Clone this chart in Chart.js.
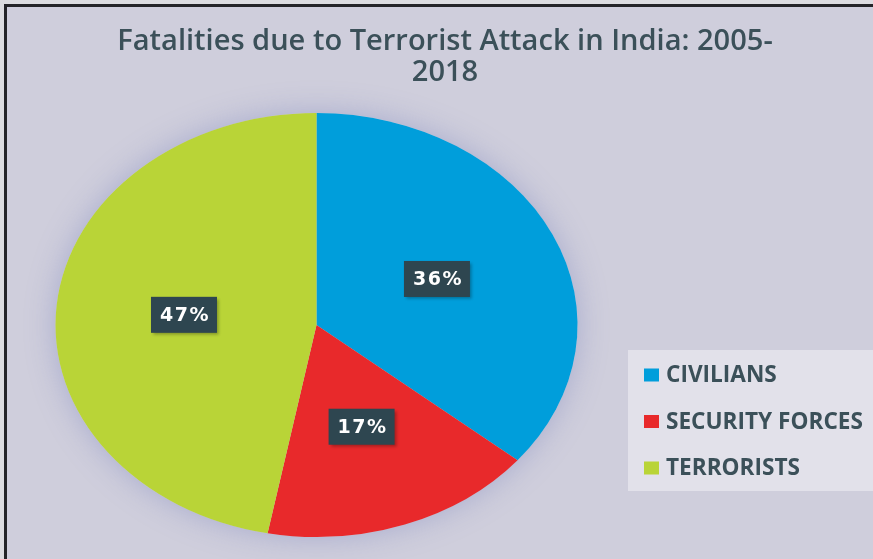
<!DOCTYPE html>
<html>
<head>
<meta charset="utf-8">
<script src="https://cdn.jsdelivr.net/npm/chart.js@4.4.1/dist/chart.umd.min.js"></script>
<style>
  html, body { margin: 0; padding: 0; background: #dedee3; }
  #wrap { width: 873px; height: 559px; position: relative; }
  canvas { display: block; }
</style>
</head>
<body>
<div id="wrap"><canvas id="chart" width="873" height="559"></canvas></div>
<script>
// Chart content
const titleLines = ['Fatalities due to Terrorist Attack in India: 2005-', '2018'];
const categories = ['CIVILIANS', 'SECURITY FORCES', 'TERRORISTS'];
const shares = [36, 17, 47];
const sliceColors = ['#009edb', '#e8292b', '#b9d437'];

// Look and layout
const BG = '#cfcedc';
const FRAME = '#242428';
const INK = '#3b5059';
const TAG_BG = '#2e4650';
const X_STRETCH = 261 / 212;   // pie is drawn as a wide ellipse

function fitFont(ctx, weight, family, text, width) {
  ctx.font = `${weight} 100px ${family}`;
  const w = ctx.measureText(text).width;
  return 100 * width / w;
}

const decor = {
  id: 'decor',
  beforeDraw(chart) {
    const ctx = chart.ctx;
    const W = chart.width, H = chart.height;
    ctx.save();
    ctx.fillStyle = '#dcdce0';
    ctx.fillRect(0, 0, W, H);
    ctx.fillStyle = FRAME;
    ctx.fillRect(4, 4, W - 4, H - 4);
    ctx.fillStyle = BG;
    ctx.fillRect(7, 7, W - 7, H - 7);
    ctx.restore();
  },
  beforeDatasetsDraw(chart) {
    const ctx = chart.ctx;
    const arc = chart.getDatasetMeta(0).data[0];
    const { x, y, outerRadius: r } = arc.getProps(['x', 'y', 'outerRadius'], true);
    // soft halo under the pie
    ctx.save();
    ctx.shadowColor = 'rgba(110,120,185,0.4)';
    ctx.shadowBlur = 30;
    ctx.fillStyle = BG;
    ctx.beginPath();
    ctx.ellipse(x, y, r * X_STRETCH, r, 0, 0, Math.PI * 2);
    ctx.fill();
    ctx.restore();
    // stretch the slices horizontally around the pie centre
    ctx.save();
    ctx.translate(x, y);
    ctx.scale(X_STRETCH, 1);
    ctx.translate(-x, -y);
  },
  afterDatasetsDraw(chart) {
    const ctx = chart.ctx;
    ctx.restore();
    // percentage tags
    const meta = chart.getDatasetMeta(0);
    meta.data.forEach((el, i) => {
      const p = el.getProps(['x', 'y', 'startAngle', 'endAngle', 'outerRadius'], true);
      const mid = (p.startAngle + p.endAngle) / 2;
      const f = 0.51;
      const tx = p.x + Math.cos(mid) * p.outerRadius * f * X_STRETCH;
      const ty = p.y + Math.sin(mid) * p.outerRadius * f;
      const bw = 66, bh = 36;
      ctx.save();
      ctx.shadowColor = 'rgba(0,0,0,0.3)';
      ctx.shadowBlur = 3;
      ctx.shadowOffsetX = 2;
      ctx.shadowOffsetY = 2;
      ctx.fillStyle = TAG_BG;
      ctx.fillRect(tx - bw / 2, ty - bh / 2, bw, bh);
      ctx.restore();
      ctx.save();
      ctx.fillStyle = '#ffffff';
      ctx.font = 'bold 19px "DejaVu Sans"';
      ctx.letterSpacing = '1.5px';
      ctx.textAlign = 'center';
      ctx.textBaseline = 'middle';
      ctx.fillText(shares[i] + '%', tx + 1, ty + 1);
      ctx.restore();
    });
  },
  afterDraw(chart) {
    const ctx = chart.ctx;
    // title
    ctx.save();
    const tSize = fitFont(ctx, 600, '"Open Sans"', titleLines[0], 656);
    ctx.font = `600 ${tSize}px "Open Sans"`;
    ctx.fillStyle = INK;
    ctx.textAlign = 'center';
    ctx.textBaseline = 'alphabetic';
    ctx.fillText(titleLines[0], 445, 50);
    ctx.fillText(titleLines[1], 445, 81);
    ctx.restore();

    // legend
    ctx.save();
    ctx.fillStyle = '#e2e1ea';
    ctx.fillRect(628, 350, 245, 141);
    const lSize = fitFont(ctx, 700, '"Open Sans"', categories[1], 197);
    ctx.font = `700 ${lSize}px "Open Sans"`;
    ctx.textAlign = 'left';
    ctx.textBaseline = 'middle';
    categories.forEach((name, i) => {
      const cy = 375 + i * 46.5;
      ctx.fillStyle = sliceColors[i];
      ctx.fillRect(644, cy - 6.5, 15, 13);
      ctx.fillStyle = INK;
      ctx.fillText(name, 666, cy + 1);
    });
    ctx.restore();
  }
};

new Chart(document.getElementById('chart'), {
  type: 'pie',
  data: {
    labels: categories,
    datasets: [{
      data: shares,
      backgroundColor: sliceColors,
      borderWidth: 0
    }]
  },
  options: {
    responsive: false,
    animation: false,
    layout: { padding: { left: 104.5, right: 344.5, top: 113, bottom: 22 } },
    plugins: {
      legend: { display: false },
      title: { display: false },
      tooltip: { enabled: false }
    }
  },
  plugins: [decor]
});
</script>
</body>
</html>
